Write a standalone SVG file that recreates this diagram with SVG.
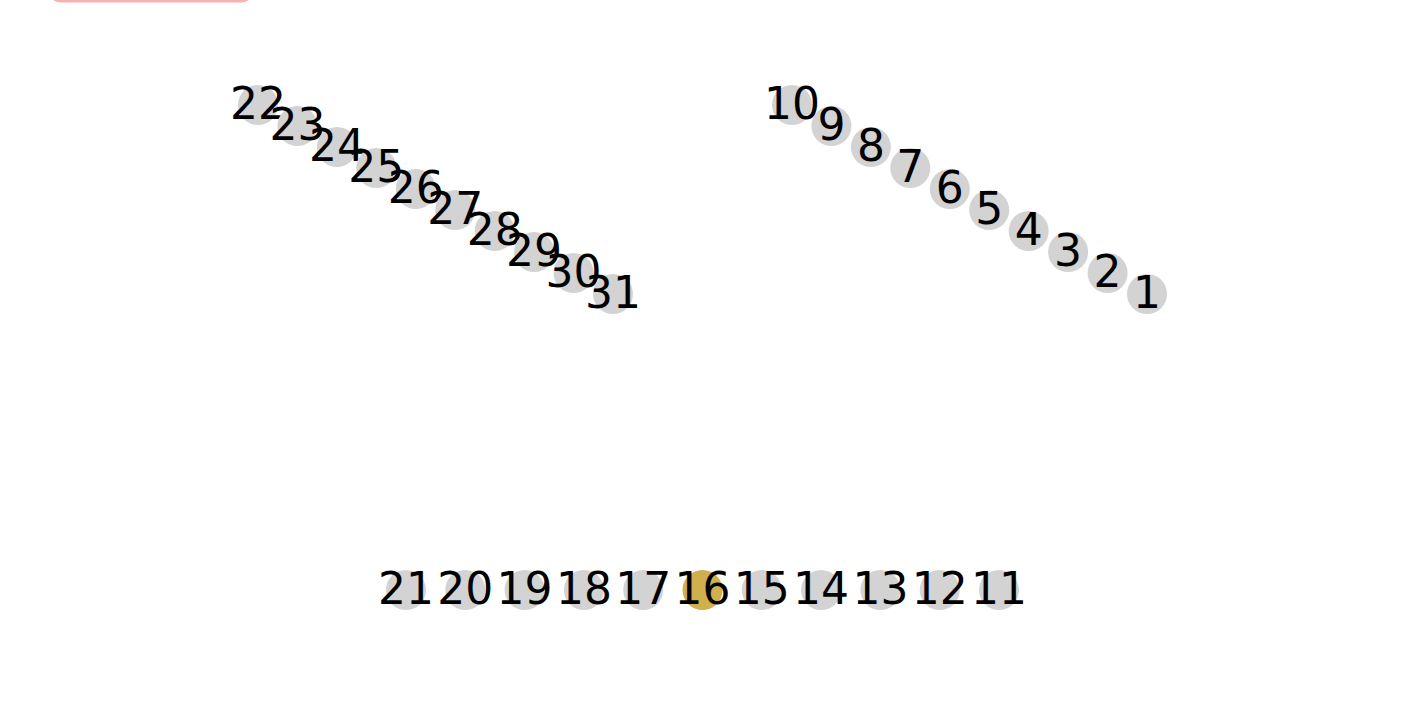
<svg xmlns="http://www.w3.org/2000/svg" width="1428" height="718" viewBox="0 0 1428 718">
<style>
.n circle{fill:#d3d3d3}
.n text{font-family:"DejaVu Sans",sans-serif;font-size:44px;fill:#000;text-anchor:middle}
#n16 circle{fill:#d0b04e}
</style>
<rect x="0" y="0" width="1428" height="718" fill="#fff"/>
<rect x="50" y="-40" width="202" height="42.5" rx="10" fill="#f8b1b1"/>
<g id="connectors"></g>
<g id="n1" class="n"><circle cx="1147" cy="294" r="20"/><text x="1147" y="307.5">1</text></g>
<g id="n2" class="n"><circle cx="1107.6" cy="273" r="20"/><text x="1107.6" y="286.5">2</text></g>
<g id="n3" class="n"><circle cx="1068.1" cy="252" r="20"/><text x="1068.1" y="265.5">3</text></g>
<g id="n4" class="n"><circle cx="1028.7" cy="231" r="20"/><text x="1028.7" y="244.5">4</text></g>
<g id="n5" class="n"><circle cx="989.2" cy="210" r="20"/><text x="989.2" y="223.5">5</text></g>
<g id="n6" class="n"><circle cx="949.8" cy="189" r="20"/><text x="949.8" y="202.5">6</text></g>
<g id="n7" class="n"><circle cx="910.3" cy="168" r="20"/><text x="910.3" y="181.5">7</text></g>
<g id="n8" class="n"><circle cx="870.9" cy="147" r="20"/><text x="870.9" y="160.5">8</text></g>
<g id="n9" class="n"><circle cx="831.4" cy="126" r="20"/><text x="831.4" y="139.5">9</text></g>
<g id="n10" class="n"><circle cx="792" cy="105" r="20"/><text x="792" y="118.5">10</text></g>
<g id="n11" class="n"><circle cx="999" cy="590" r="20"/><text x="999" y="603.5">11</text></g>
<g id="n12" class="n"><circle cx="939.7" cy="590" r="20"/><text x="939.7" y="603.5">12</text></g>
<g id="n13" class="n"><circle cx="880.4" cy="590" r="20"/><text x="880.4" y="603.5">13</text></g>
<g id="n14" class="n"><circle cx="821.1" cy="590" r="20"/><text x="821.1" y="603.5">14</text></g>
<g id="n15" class="n"><circle cx="761.8" cy="590" r="20"/><text x="761.8" y="603.5">15</text></g>
<g id="n16" class="n"><circle cx="702.5" cy="590" r="20"/><text x="702.5" y="603.5">16</text></g>
<g id="n17" class="n"><circle cx="643.2" cy="590" r="20"/><text x="643.2" y="603.5">17</text></g>
<g id="n18" class="n"><circle cx="583.9" cy="590" r="20"/><text x="583.9" y="603.5">18</text></g>
<g id="n19" class="n"><circle cx="524.6" cy="590" r="20"/><text x="524.6" y="603.5">19</text></g>
<g id="n20" class="n"><circle cx="465.3" cy="590" r="20"/><text x="465.3" y="603.5">20</text></g>
<g id="n21" class="n"><circle cx="406" cy="590" r="20"/><text x="406" y="603.5">21</text></g>
<g id="n22" class="n"><circle cx="258" cy="105" r="20"/><text x="258" y="118.5">22</text></g>
<g id="n23" class="n"><circle cx="297.4" cy="126" r="20"/><text x="297.4" y="139.5">23</text></g>
<g id="n24" class="n"><circle cx="336.9" cy="147" r="20"/><text x="336.9" y="160.5">24</text></g>
<g id="n25" class="n"><circle cx="376.3" cy="168" r="20"/><text x="376.3" y="181.5">25</text></g>
<g id="n26" class="n"><circle cx="415.8" cy="189" r="20"/><text x="415.8" y="202.5">26</text></g>
<g id="n27" class="n"><circle cx="455.2" cy="210" r="20"/><text x="455.2" y="223.5">27</text></g>
<g id="n28" class="n"><circle cx="494.7" cy="231" r="20"/><text x="494.7" y="244.5">28</text></g>
<g id="n29" class="n"><circle cx="534.1" cy="252" r="20"/><text x="534.1" y="265.5">29</text></g>
<g id="n30" class="n"><circle cx="573.6" cy="273" r="20"/><text x="573.6" y="286.5">30</text></g>
<g id="n31" class="n"><circle cx="613" cy="294" r="20"/><text x="613" y="307.5">31</text></g>
</svg>
